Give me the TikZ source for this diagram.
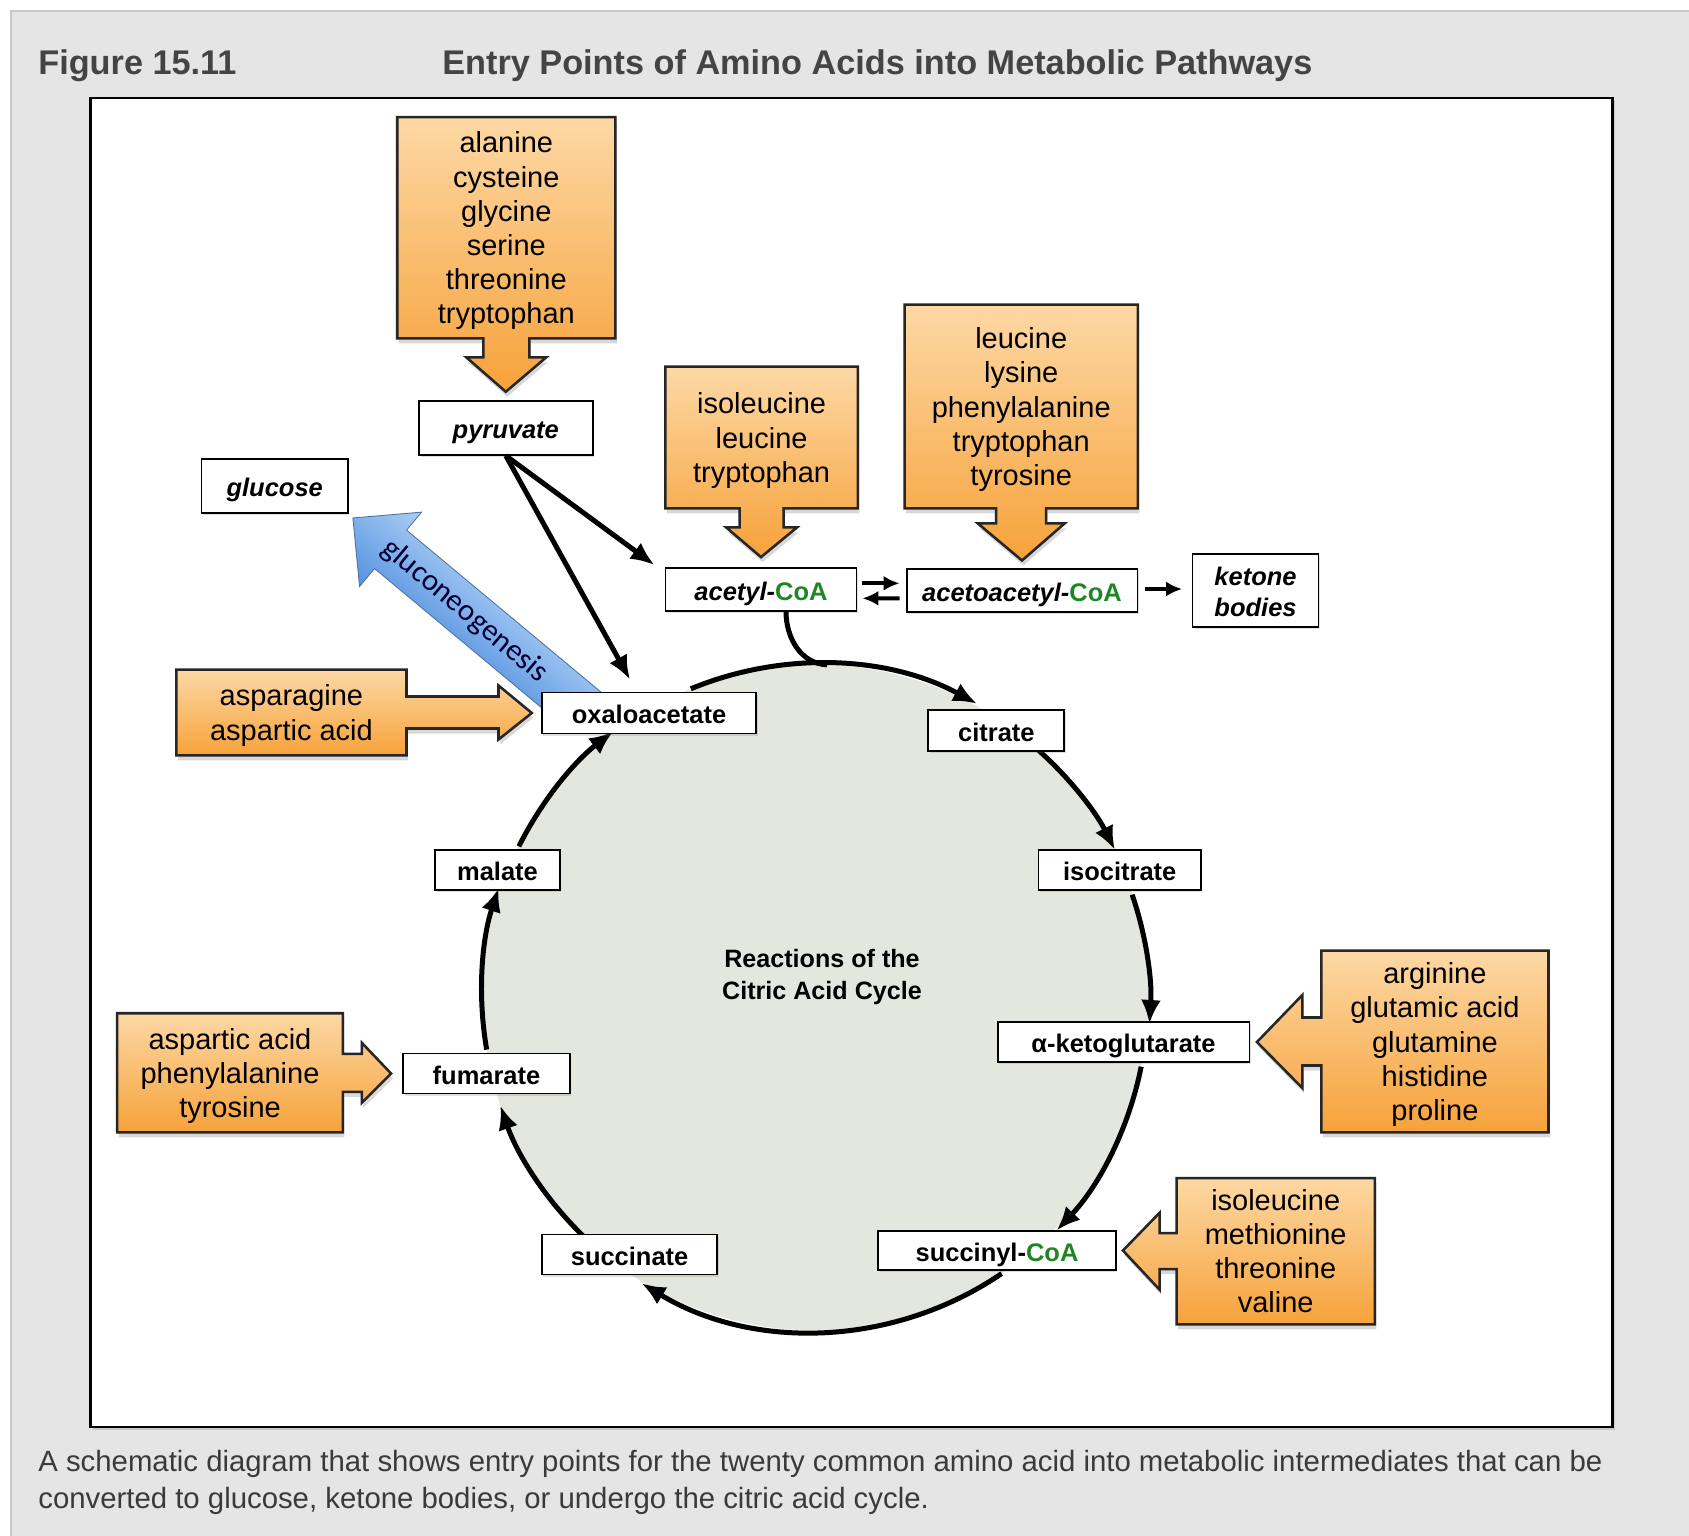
\documentclass[tikz,border=0pt]{standalone}
\usepackage{fontspec}
\setmainfont{Liberation Sans}
\newfontfamily\glufont{Carlito}
\usepackage{tikz}
\usetikzlibrary{arrows.meta,calc,backgrounds,shadows}

\definecolor{panelgray}{RGB}{229,229,229}
\definecolor{panelline}{RGB}{200,200,200}
\definecolor{titlegray}{RGB}{68,68,68}
\definecolor{aatop}{RGB}{253,216,165}
\definecolor{aabot}{RGB}{246,162,58}
\definecolor{cycfill}{RGB}{228,231,222}
\definecolor{coagreen}{RGB}{30,135,35}
\definecolor{glutop}{RGB}{172,206,246}
\definecolor{glubot}{RGB}{84,146,222}
\definecolor{gluline}{RGB}{80,115,160}
\newcommand{\CoAtext}{\textcolor{coagreen}{\upshape CoA}}

\begin{document}
\begin{tikzpicture}[
    x=0.02cm, y=0.02cm,
    box/.style={rectangle, draw, line width=1.1pt, fill=white, inner sep=0pt, minimum height=0.8cm, align=center,
        text height=12.2pt, text depth=0pt,
        font=\fontsize{14.5}{17.7}\selectfont\bfseries, drop shadow={opacity=0.25, shadow xshift=0.03cm, shadow yshift=-0.04cm}},
    ibox/.style={box, font=\fontsize{14.5}{17.7}\selectfont\bfseries\itshape},
    aabox/.style={rectangle, inner sep=0pt, align=center, text depth=-2.5pt, font=\fontsize{16.5}{19.4}\selectfont},
    aashape/.style={draw=black!85, line width=1.45pt, top color=aatop, bottom color=aabot,
        drop shadow={opacity=0.3, shadow xshift=0.03cm, shadow yshift=-0.1cm}},
    arrow/.style={-{Latex[length=0.48cm, width=0.4cm]}, line width=0.1cm},
    smallarrow/.style={-{Latex[length=0.32cm, width=0.3cm]}, line width=0.08cm},
    glushape/.style={draw=gluline, line width=0.5pt, top color=glutop, bottom color=glubot},
    glutext/.style={inner sep=0pt, font=\glufont\fontsize{17.5}{20}\selectfont, text=black!80!blue}
]
\useasboundingbox (0,0) rectangle (1689,-1535);

% panel and frame
\begin{scope}[on background layer]
\fill[white] (0,0) rectangle (1689,-1535);
\filldraw[fill=panelgray, draw=panelline, line width=0.04cm] (11,-11) rectangle (1710,-1560);
\draw[line width=0.05cm, fill=white, drop shadow={opacity=0.3, shadow xshift=0.04cm, shadow yshift=-0.06cm}]
    (90.5,-98) rectangle (1612.6,-1427);
\end{scope}

\node[anchor=base west, inner sep=0pt, text=titlegray, font=\fontsize{19.5}{23}\selectfont\bfseries] (fig) at (38,-74) {Figure 15.11};
\node[anchor=base west, inner sep=0pt, text=titlegray, font=\fontsize{19.5}{23}\selectfont\bfseries] (title) at (442,-74) {Entry Points of Amino Acids into Metabolic Pathways};

% citric acid cycle
\node[circle, fill=cycfill, inner sep=0pt, outer sep=0pt, minimum size=13.32cm] (cyc) at (815.5,-997.5) {};
\node[align=center, font=\fontsize{14.3}{17.7}\selectfont\bfseries] (cyclabel) at (822,-977) {Reactions of the\\Citric Acid Cycle};
\draw[arrow] (cyc.112.5) arc[start angle=112.5, end angle=61.5, radius=333];
\draw[arrow] (cyc.48.4) arc[start angle=48.4, end angle=26.6, radius=333];
\draw[arrow] (cyc.18.9) arc[start angle=18.9, end angle=-3.7, radius=333];
\draw[arrow] (cyc.348.75) arc[start angle=348.75, end angle=316.6, radius=333];
\draw[arrow] (cyc.304.3) arc[start angle=304.3, end angle=238.8, radius=333];
\draw[arrow] (cyc.226.1) arc[start angle=226.1, end angle=199, radius=333];
\draw[arrow] (cyc.189.8) arc[start angle=189.8, end angle=161.6, radius=333];
\draw[arrow] (cyc.153.5) arc[start angle=153.5, end angle=127.7, radius=333];

% intermediates
\node[ibox, minimum width=3.47cm, minimum height=1.08cm] (pyr) at (505.8,-427.7) {pyruvate};
\node[ibox, minimum width=2.93cm, minimum height=1.08cm] (glc) at (274.7,-486) {glucose};
\node[ibox, minimum width=3.82cm, minimum height=0.85cm] (acoa) at (761,-589.3) {acetyl-\CoAtext};
\node[ibox, minimum width=4.62cm, minimum height=0.85cm] (aacoa) at (1022,-590.7) {acetoacetyl-\CoAtext};
\node[ibox, minimum width=2.52cm, minimum height=1.47cm, text height=29.9pt] (ketone) at (1255.5,-590.4) {ketone\\bodies};
\node[box, minimum width=4.29cm, minimum height=0.82cm] (oaa) at (649,-713) {oxaloacetate};
\node[box, minimum width=2.72cm, minimum height=0.82cm] (cit) at (996.4,-730.4) {citrate};
\node[box, minimum width=3.25cm] (icit) at (1119.7,-870) {isocitrate};
\node[box, minimum width=5.04cm] (akg) at (1123.5,-1042) {α-ketoglutarate};
\node[box, minimum width=4.76cm, minimum height=0.78cm] (scoa) at (997,-1250.5) {succinyl-\CoAtext};
\node[box, minimum width=3.51cm] (succ) at (629.6,-1254.5) {succinate};
\node[box, minimum width=3.34cm] (fum) at (486.5,-1073.5) {fumarate};
\node[box, minimum width=2.50cm] (mal) at (497.5,-870) {malate};

\draw[line width=0.1cm] ($(acoa.south)+(25,0)$) to[out=-90, in=178] (cyc.88);
\draw[arrow] (pyr.south) -- ($(acoa.north west)+(-10,2)$);
\draw[arrow] (pyr.south) -- ($(oaa.north)+(-19,12)$);
\draw[smallarrow] ($(acoa.east)+(5,6)$) -- ($(aacoa.west)+(-6,7.4)$);
\draw[smallarrow] ($(aacoa.west)+(-6,-7.6)$) -- ($(acoa.east)+(5,-9)$);
\draw[smallarrow] ($(aacoa.east)+(6.5,1.7)$) -- ($(ketone.west)+(-9.5,1.4)$);

% gluconeogenesis
\coordinate (gtip) at ($(glc.south east)+(4,-4)$);
\coordinate (gbase) at ($(oaa.north west)+(45,-20)$);
\node[glutext, rotate=-39.8] (gng) at ($(gtip)!0.48!(gbase)$) {gluconeogenesis};

% amino acids
\node[aabox, minimum width=4.35cm, minimum height=4.41cm] (toPyr) at (506.3,-227.7) {alanine\\cysteine\\glycine\\serine\\threonine\\tryptophan};
\node[aabox, minimum width=3.84cm, minimum height=2.82cm] (toAcoa) at (761.6,-437.5) {isoleucine\\leucine\\tryptophan};
\node[aabox, minimum width=4.65cm, minimum height=4.06cm] (toAacoa) at (1021.2,-406.5) {leucine\\lysine\\phenylalanine\\tryptophan\\tyrosine};
\node[aabox, minimum width=4.59cm, minimum height=1.70cm] (toOaa) at (291.4,-712.5) {asparagine\\aspartic acid};
\node[aabox, minimum width=4.53cm, minimum height=3.62cm] (toAkg) at (1434.9,-1041.5) {arginine\\glutamic acid\\glutamine\\histidine\\proline};
\node[aabox, minimum width=3.95cm, minimum height=2.91cm] (toScoa) at (1275.7,-1251.2) {isoleucine\\methionine\\threonine\\valine};
\node[aabox, minimum width=4.50cm, minimum height=2.37cm] (toFum) at (230,-1072.8) {aspartic acid\\phenylalanine\\tyrosine};

\begin{scope}[on background layer]
\begin{scope}[transform canvas={rotate around={-39.8:(gtip)}}]
\draw[glushape] (gtip) -- ++(49,48.4) -- ++(0,-23.4) -- ++(257,0) -- ++(0,-50) -- ++(-257,0) -- ++(0,-23.4) -- cycle;
\end{scope}
\draw[aashape] (toPyr.south west) -- (toPyr.north west) -- (toPyr.north east) -- (toPyr.south east)
    -- ($(toPyr.south)+(23,0)$) -- ++(0,-19) -- ++(17,0) -- ($(pyr.north)+(0,8)$)
    -- ($(toPyr.south)+(-40,-19)$) -- ++(17,0) -- ++(0,19) -- cycle;
\draw[aashape] (toAcoa.south west) -- (toAcoa.north west) -- (toAcoa.north east) -- (toAcoa.south east)
    -- ($(toAcoa.south)+(22,0)$) -- ++(0,-19) -- ++(13.5,0) -- ($(acoa.north)+(0,10)$)
    -- ($(toAcoa.south)+(-35.5,-19)$) -- ++(13.5,0) -- ++(0,19) -- cycle;
\draw[aashape] (toAacoa.south west) -- (toAacoa.north west) -- (toAacoa.north east) -- (toAacoa.south east)
    -- ($(toAacoa.south)+(25,0)$) -- ++(0,-15) -- ++(18.5,0) -- ($(aacoa.north)+(0,8)$)
    -- ($(toAacoa.south)+(-43.5,-15)$) -- ++(18.5,0) -- ++(0,15) -- cycle;
\draw[aashape] (toOaa.south east) -- (toOaa.south west) -- (toOaa.north west) -- (toOaa.north east)
    -- ($(toOaa.east)+(0,16)$) -- ++(92,0) -- ++(0,11) -- ($(oaa.west)+(-9,0)$)
    -- ($(toOaa.east)+(92,-27)$) -- ++(0,11) -- ++(-92,0) -- cycle;
\draw[aashape] (toAkg.north west) -- (toAkg.north east) -- (toAkg.south east) -- (toAkg.south west)
    -- ($(toAkg.west)+(0,-24)$) -- ++(-19,0) -- ++(0,-22.5) -- ($(akg.east)+(6.5,0)$)
    -- ($(toAkg.west)+(-19,46.5)$) -- ++(0,-22.5) -- ++(19,0) -- cycle;
\draw[aashape] (toScoa.north west) -- (toScoa.north east) -- (toScoa.south east) -- (toScoa.south west)
    -- ($(toScoa.west)+(0,-18)$) -- ++(-17,0) -- ++(0,-20.5) -- ($(scoa.east)+(6,0)$)
    -- ($(toScoa.west)+(-17,38.5)$) -- ++(0,-20.5) -- ++(17,0) -- cycle;
\draw[aashape] (toFum.south east) -- (toFum.south west) -- (toFum.north west) -- (toFum.north east)
    -- ($(toFum.east)+(0,19)$) -- ++(19,0) -- ++(0,11) -- ($(fum.west)+(-11,0)$)
    -- ($(toFum.east)+(19,-30)$) -- ++(0,11) -- ++(-19,0) -- cycle;
\end{scope}

\node[anchor=base west, align=left, inner sep=0pt, text=titlegray!85!black, font=\fontsize{16.7}{21.4}\selectfont] (caption) at (38,-1508.7)
    {A schematic diagram that shows entry points for the twenty common amino acid into metabolic intermediates that can be\\converted to glucose, ketone bodies, or undergo the citric acid cycle.};
\end{tikzpicture}
\end{document}
